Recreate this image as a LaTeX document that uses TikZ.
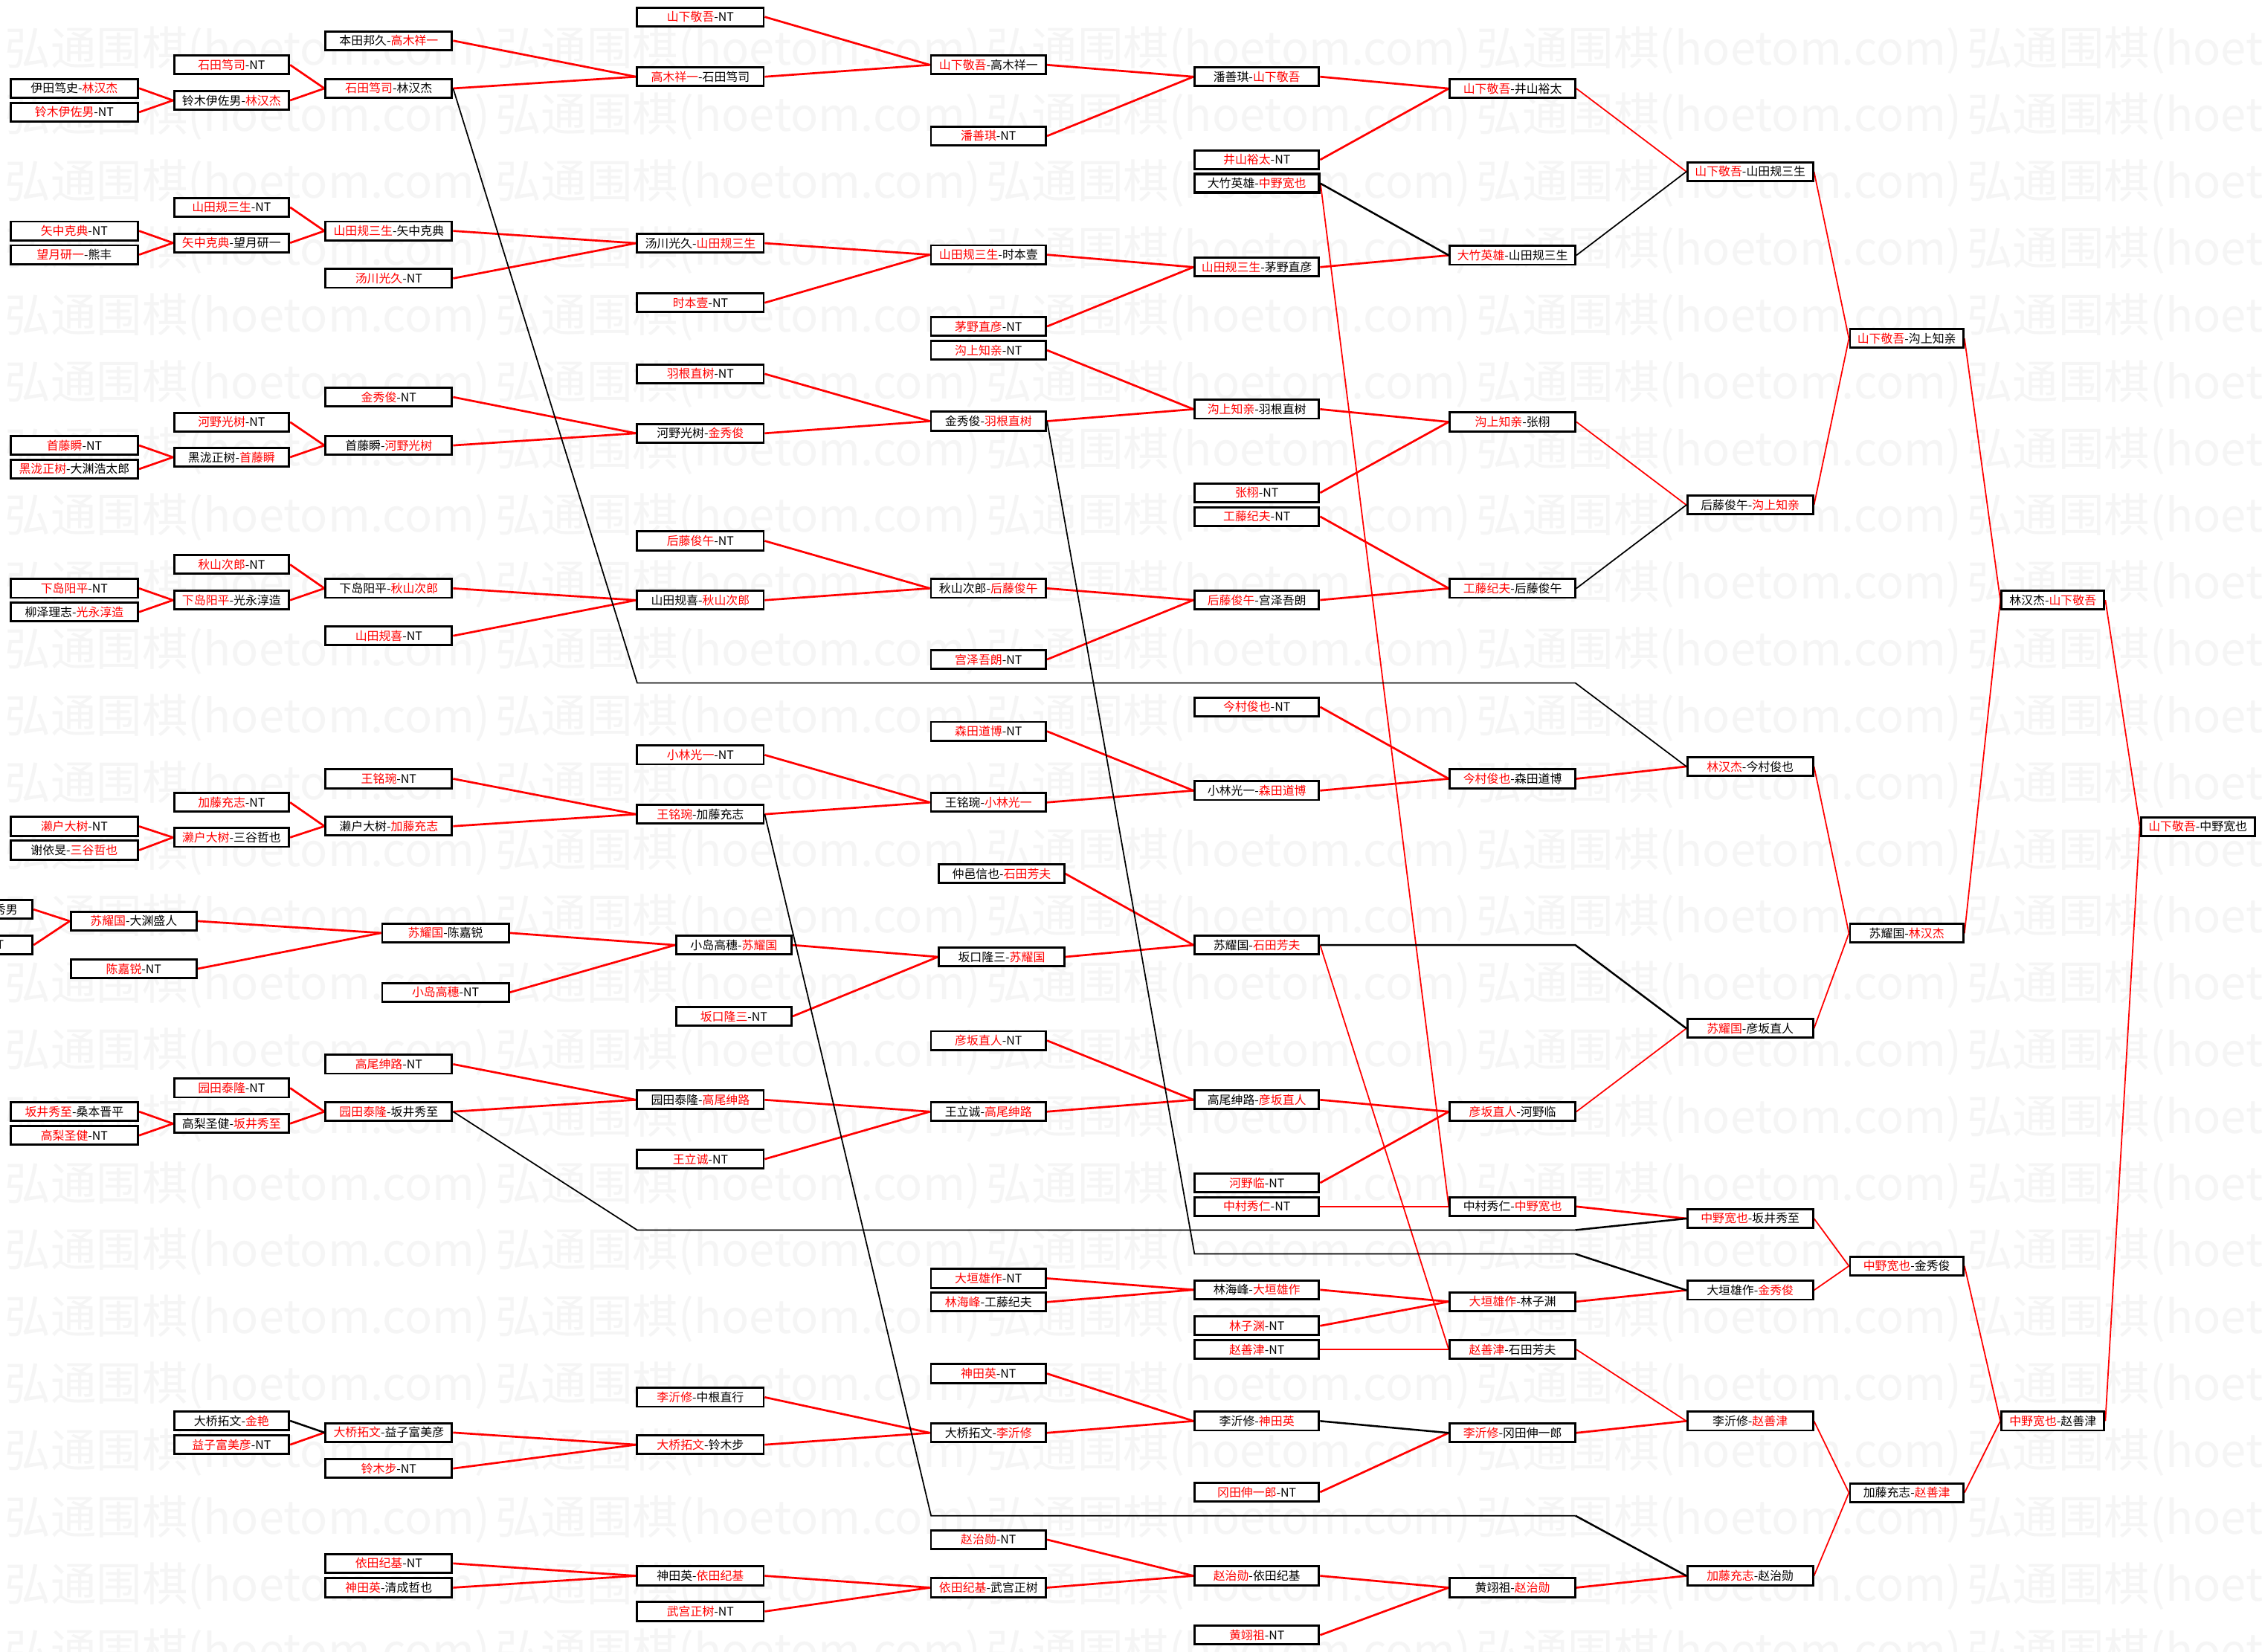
\documentclass[tikz,border=0pt]{standalone}
\usepackage{fontspec}
\newfontfamily\cjk{Noto Sans CJK SC}
\newcommand\R[1]{\textcolor{red}{#1}}
\pgfdeclarelayer{wmlayer}
\pgfdeclarelayer{linelayer}
\pgfsetlayers{wmlayer,linelayer,main}
\begin{document}
\begin{tikzpicture}[x=1pt,y=-1pt,
 box/.style={draw=black, line width=1.5pt, fill=white, minimum height=13pt, inner sep=0pt, font=\cjk\fontsize{8.2}{9}\selectfont},
 c0/.style={box, minimum width=88.4pt},
 c1/.style={box, minimum width=79.7pt},
 c2/.style={box, minimum width=87.7pt},
 c3/.style={box, minimum width=87.7pt},
 c4/.style={box, minimum width=79.7pt},
 c4b/.style={box, minimum width=86.7pt},
 c5/.style={box, minimum width=86.3pt},
 c6/.style={box, minimum width=87pt},
 c7/.style={box, minimum width=87pt},
 c8/.style={box, minimum width=78.6pt},
 c9/.style={box, minimum width=71.3pt},
 c10/.style={box, minimum width=78.9pt},
 c1b/.style={box, minimum width=87.3pt},
 c2b/.style={box, minimum width=87.7pt},
 c3b/.style={box, minimum width=80pt},
 rl/.style={draw=red, line width=1.4pt},
 rt/.style={draw=red, line width=0.9pt},
 bl/.style={draw=black, line width=1.3pt},
 bt/.style={draw=black, line width=0.9pt},
 wm/.style={anchor=west, inner sep=0pt, text=black!4, font=\cjk\fontsize{31.7}{32}\selectfont}]
\useasboundingbox (0,0) rectangle (1568,1145);
\begin{pgfonlayer}{wmlayer}
\fill[white] (0,0) rectangle (1568,1145);
\foreach \j in {0,...,24}{\foreach \i in {0,...,4}{
  \node[wm] (wm-\i-\j) at ({3.3+340*\i},{34.7+46.3*\j}) {弘通围棋(hoetom.com)};}}
\end{pgfonlayer}
% C0
\node[c0] (n01) at (51.5,61.2) {伊田笃史-\R{林汉杰}};
\node[c0] (n02) at (51.5,77.8) {\R{铃木伊佐男}-NT};
\node[c0] (n03) at (51.5,160.1) {\R{矢中克典}-NT};
\node[c0] (n04) at (51.5,176.6) {\R{望月研一}-熊丰};
\node[c0] (n05) at (51.5,308.8) {\R{首藤瞬}-NT};
\node[c0] (n06) at (51.5,325.2) {\R{黑泷正树}-大渊浩太郎};
\node[c0] (n07) at (51.5,407.9) {\R{下岛阳平}-NT};
\node[c0] (n08) at (51.5,424.3) {柳泽理志-\R{光永淳造}};
\node[c0] (n09) at (51.5,572.9) {\R{濑户大树}-NT};
\node[c0] (n10) at (51.5,589.4) {谢依旻-\R{三谷哲也}};
\node[c0] (n11) at (51.5,770.7) {\R{坂井秀至}-桑本晋平};
\node[c0] (n12) at (51.5,787.2) {\R{高梨圣健}-NT};
\node[c0, anchor=east, text width=67.7pt, align=right] (x0a) at (23.3,630.5) {秀男};
\node[c0, anchor=east, text width=48.7pt, align=right] (x0b) at (23.3,655.2) {NT};
% C1
\node[c1] (m01) at (160.5,45) {\R{石田笃司}-NT};
\node[c1] (m02) at (160.5,69.6) {铃木伊佐男-\R{林汉杰}};
\node[c1] (m03) at (160.5,143.7) {\R{山田规三生}-NT};
\node[c1] (m04) at (160.5,168.4) {\R{矢中克典}-望月研一};
\node[c1] (m05) at (160.5,292.6) {\R{河野光树}-NT};
\node[c1] (m06) at (160.5,317) {黑泷正树-\R{首藤瞬}};
\node[c1] (m07) at (160.5,391.4) {\R{秋山次郎}-NT};
\node[c1] (m08) at (160.5,416.1) {\R{下岛阳平}-光永淳造};
\node[c1] (m09) at (160.5,556.3) {\R{加藤充志}-NT};
\node[c1] (m10) at (160.5,580.6) {\R{濑户大树}-三谷哲也};
\node[c1] (m11) at (160.5,754.3) {\R{园田泰隆}-NT};
\node[c1] (m12) at (160.5,779) {高梨圣健-\R{坂井秀至}};
\node[c1] (m13) at (160.5,985) {大桥拓文-\R{金艳}};
\node[c1] (m14) at (160.5,1001.6) {\R{益子富美彦}-NT};
\node[c1b] (b01) at (92.7,638.6) {\R{苏耀国}-大渊盛人};
\node[c1b] (b02) at (92.7,671.6) {\R{陈嘉锐}-NT};
% C2
\node[c2] (k01) at (269.5,28.2) {本田邦久-\R{高木祥一}};
\node[c2] (k02) at (269.5,61.3) {\R{石田笃司}-林汉杰};
\node[c2] (k03) at (269.5,160.1) {\R{山田规三生}-矢中克典};
\node[c2] (k04) at (269.5,193) {\R{汤川光久}-NT};
\node[c2] (k05) at (269.5,275.3) {\R{金秀俊}-NT};
\node[c2] (k06) at (269.5,308.8) {首藤瞬-\R{河野光树}};
\node[c2] (k07) at (269.5,407.9) {下岛阳平-\R{秋山次郎}};
\node[c2] (k08) at (269.5,440.8) {\R{山田规喜}-NT};
\node[c2] (k09) at (269.5,539.9) {\R{王铭琬}-NT};
\node[c2] (k10) at (269.5,572.8) {濑户大树-\R{加藤充志}};
\node[c2] (k11) at (269.5,737.8) {\R{高尾绅路}-NT};
\node[c2] (k12) at (269.5,770.7) {\R{园田泰隆}-坂井秀至};
\node[c2] (k13) at (269.5,993.2) {\R{大桥拓文}-益子富美彦};
\node[c2] (k14) at (269.5,1018.1) {\R{铃木步}-NT};
\node[c2] (k15) at (269.5,1083.9) {\R{依田纪基}-NT};
\node[c2] (k16) at (269.5,1100.7) {\R{神田英}-清成哲也};
\node[c2b] (b03) at (308.8,646.8) {\R{苏耀国}-陈嘉锐};
\node[c2b] (b04) at (308.8,688) {\R{小岛高穗}-NT};
% C3
\node[c3] (j01) at (485.5,11.7) {\R{山下敬吾}-NT};
\node[c3] (j02) at (485.5,53.2) {\R{高木祥一}-石田笃司};
\node[c3] (j03) at (485.5,168.6) {汤川光久-\R{山田规三生}};
\node[c3] (j04) at (485.5,209.9) {\R{时本壹}-NT};
\node[c3] (j05) at (485.5,259.2) {\R{羽根直树}-NT};
\node[c3] (j06) at (485.5,300.4) {河野光树-\R{金秀俊}};
\node[c3] (j07) at (485.5,375) {\R{后藤俊午}-NT};
\node[c3] (j08) at (485.5,416.1) {山田规喜-\R{秋山次郎}};
\node[c3] (j09) at (485.5,523.4) {\R{小林光一}-NT};
\node[c3] (j10) at (485.5,564.5) {\R{王铭琬}-加藤充志};
\node[c3] (j11) at (485.5,762.5) {园田泰隆-\R{高尾绅路}};
\node[c3] (j12) at (485.5,803.6) {\R{王立诚}-NT};
\node[c3] (j13) at (485.5,968.7) {\R{李沂修}-中根直行};
\node[c3] (j14) at (485.5,1001.6) {\R{大桥拓文}-铃木步};
\node[c3] (j15) at (485.5,1092.5) {神田英-\R{依田纪基}};
\node[c3] (j16) at (485.5,1117.2) {\R{武宫正树}-NT};
\node[c3b] (b05) at (508.7,655.2) {小岛高穗-\R{苏耀国}};
\node[c3b] (b06) at (508.7,704.6) {\R{坂口隆三}-NT};
% C4
\node[c4] (h01) at (685.2,45) {\R{山下敬吾}-高木祥一};
\node[c4] (h02) at (685.2,94.3) {\R{潘善琪}-NT};
\node[c4] (h03) at (685.2,176.6) {\R{山田规三生}-时本壹};
\node[c4] (h04) at (685.2,226.3) {\R{茅野直彦}-NT};
\node[c4] (h05) at (685.2,242.8) {\R{沟上知亲}-NT};
\node[c4] (h06) at (685.2,292) {金秀俊-\R{羽根直树}};
\node[c4] (h07) at (685.2,407.9) {秋山次郎-\R{后藤俊午}};
\node[c4] (h08) at (685.2,457.2) {\R{宫泽吾朗}-NT};
\node[c4] (h09) at (685.2,507) {\R{森田道博}-NT};
\node[c4] (h10) at (685.2,556.3) {王铭琬-\R{小林光一}};
\node[c4] (h11) at (685.2,721.4) {\R{彦坂直人}-NT};
\node[c4] (h12) at (685.2,770.7) {王立诚-\R{高尾绅路}};
\node[c4] (h13) at (685.2,886.3) {\R{大垣雄作}-NT};
\node[c4] (h14) at (685.2,902.7) {\R{林海峰}-工藤纪夫};
\node[c4] (h15) at (685.2,952.3) {\R{神田英}-NT};
\node[c4] (h16) at (685.2,993.4) {大桥拓文-\R{李沂修}};
\node[c4] (h17) at (685.2,1067.4) {\R{赵治勋}-NT};
\node[c4] (h18) at (685.2,1100.7) {\R{依田纪基}-武宫正树};
\node[c4b] (b07) at (694.3,605.7) {仲邑信也-\R{石田芳夫}};
\node[c4b] (b08) at (694.3,663.4) {坂口隆三-\R{苏耀国}};
% C5
\node[c5] (g01) at (871.2,53.2) {潘善琪-\R{山下敬吾}};
\node[c5] (g02) at (871.2,110.8) {\R{井山裕太}-NT};
\node[c5, line width=2pt] (g03) at (871.2,127.2) {大竹英雄-\R{中野宽也}};
\node[c5] (g04) at (871.2,185.2) {\R{山田规三生}-茅野直彦};
\node[c5] (g05) at (871.2,283.7) {\R{沟上知亲}-羽根直树};
\node[c5] (g06) at (871.2,341.7) {\R{张栩}-NT};
\node[c5] (g07) at (871.2,358.1) {\R{工藤纪夫}-NT};
\node[c5] (g08) at (871.2,416) {\R{后藤俊午}-宫泽吾朗};
\node[c5] (g09) at (871.2,490.1) {\R{今村俊也}-NT};
\node[c5] (g10) at (871.2,548.1) {小林光一-\R{森田道博}};
\node[c5] (g11) at (871.2,655.2) {苏耀国-\R{石田芳夫}};
\node[c5] (g12) at (871.2,762.5) {高尾绅路-\R{彦坂直人}};
\node[c5] (g13) at (871.2,820.1) {\R{河野临}-NT};
\node[c5] (g14) at (871.2,836.5) {\R{中村秀仁}-NT};
\node[c5] (g15) at (871.2,894.2) {林海峰-\R{大垣雄作}};
\node[c5] (g16) at (871.2,919.2) {\R{林子渊}-NT};
\node[c5] (g17) at (871.2,935.6) {\R{赵善津}-NT};
\node[c5] (g18) at (871.2,985.2) {李沂修-\R{神田英}};
\node[c5] (g19) at (871.2,1034.5) {\R{冈田伸一郎}-NT};
\node[c5] (g20) at (871.2,1092.5) {\R{赵治勋}-依田纪基};
\node[c5] (g21) at (871.2,1133.6) {\R{黄翊祖}-NT};
% C6
\node[c6] (f01) at (1048.5,61.4) {\R{山下敬吾}-井山裕太};
\node[c6] (f02) at (1048.5,177) {\R{大竹英雄}-山田规三生};
\node[c6] (f03) at (1048.5,292.5) {\R{沟上知亲}-张栩};
\node[c6] (f04) at (1048.5,407.9) {\R{工藤纪夫}-后藤俊午};
\node[c6] (f05) at (1048.5,539.9) {\R{今村俊也}-森田道博};
\node[c6] (f06) at (1048.5,770.7) {\R{彦坂直人}-河野临};
\node[c6] (f07) at (1048.5,836.5) {中村秀仁-\R{中野宽也}};
\node[c6] (f08) at (1048.5,902.4) {\R{大垣雄作}-林子渊};
\node[c6] (f09) at (1048.5,935.6) {\R{赵善津}-石田芳夫};
\node[c6] (f10) at (1048.5,993.4) {\R{李沂修}-冈田伸一郎};
\node[c6] (f11) at (1048.5,1100.7) {黄翊祖-\R{赵治勋}};
% C7
\node[c7] (e01) at (1213.2,119) {\R{山下敬吾}-山田规三生};
\node[c7] (e02) at (1213.2,350.1) {后藤俊午-\R{沟上知亲}};
\node[c7] (e03) at (1213.2,531.4) {\R{林汉杰}-今村俊也};
\node[c7] (e04) at (1213.2,713) {\R{苏耀国}-彦坂直人};
\node[c7] (e05) at (1213.2,844.8) {\R{中野宽也}-坂井秀至};
\node[c7] (e06) at (1213.2,894.5) {大垣雄作-\R{金秀俊}};
\node[c7] (e07) at (1213.2,985.2) {李沂修-\R{赵善津}};
\node[c7] (e08) at (1213.2,1092.5) {\R{加藤充志}-赵治勋};
% C8
\node[c8] (d01) at (1321.7,234.7) {\R{山下敬吾}-沟上知亲};
\node[c8] (d02) at (1321.7,647) {苏耀国-\R{林汉杰}};
\node[c8] (d03) at (1321.7,877.7) {\R{中野宽也}-金秀俊};
\node[c8] (d04) at (1321.7,1034.9) {加藤充志-\R{赵善津}};
% C9
\node[c9] (c01) at (1423,416) {林汉杰-\R{山下敬吾}};
\node[c9] (c02) at (1423,985.2) {\R{中野宽也}-赵善津};
% C10
\node[c10] (a01) at (1523.5,573) {\R{山下敬吾}-中野宽也};
% connectors
\begin{pgfonlayer}{linelayer}
\foreach \a/\b in {n01/m02,n02/m02,m01/k02,m02/k02,k01/j02,k02/j02,j01/h01,j02/h01,h01/g01,h02/g01,g01/f01,g02/f01,
 n03/m04,n04/m04,m03/k03,m04/k03,k03/j03,k04/j03,j03/h03,j04/h03,h03/g04,h04/g04,g04/f02,
 n05/m06,n06/m06,m05/k06,m06/k06,k05/j06,k06/j06,j05/h06,j06/h06,h06/g05,h05/g05,g05/f03,g06/f03,
 g07/f04,g08/f04,h07/g08,h08/g08,j07/h07,j08/h07,k07/j08,k08/j08,m07/k07,m08/k07,n07/m08,n08/m08,
 g09/f05,g10/f05,f05/e03,h09/g10,h10/g10,j09/h10,j10/h10,k09/j10,k10/j10,m09/k10,m10/k10,n09/m10,n10/m10,
 b07/g11,b08/g11,b05/b08,b06/b08,b03/b05,b04/b05,b01/b03,b02/b03,x0a/b01,x0b/b01,
 h11/g12,h12/g12,g12/f06,g13/f06,j11/h12,j12/h12,k11/j11,k12/j11,m11/k12,m12/k12,n11/m12,n12/m12,
 g14/f07,f07/e05,f08/e06,g15/f08,g16/f08,h13/g15,h14/g15,g17/f09,f10/e07,g19/f10,h15/g18,h16/g18,
 j13/h16,j14/h16,k13/j14,k14/j14,m14/k13,f11/e08,g20/f11,g21/f11,h17/g20,h18/g20,j15/h18,j16/h18,k15/j15,k16/j15}
 {\draw[rl] (\a.east) -- (\b.west);}
\foreach \a/\b in {f01/e01,f03/e02,e01/d01,e02/d01,d01/c01,d02/c01,c01/a01,c02/a01,e03/d02,e04/d02,f06/e04,
 e05/d03,e06/d03,d03/c02,d04/c02,f09/e07,e07/d04,e08/d04,g03/f07,g11/f09}
 {\draw[rt] (\a.east) -- (\b.west);}
\foreach \a/\b in {g03/f02,g18/f10,m13/k13}
 {\draw[bl] (\a.east) -- (\b.west);}
\draw[bt] (f02.east) -- (e01.west);
\draw[bt] (f04.east) -- (e02.west);
\draw[bt] (k02.east) -- (441.7,473.5) -- (1092,473.5) -- (e03.west);
\draw[bt] (h06.east) -- (828,869.3) -- (1092,869.3);
\draw[bl] (1092,869.3) -- (e06.west);
\draw[bt] (j10.east) -- (645.4,1050.8) -- (1092,1050.8);
\draw[bl] (1092,1050.8) -- (e08.west);
\draw[bl] (g11.east) -- (1092,655.2) -- (e04.west);
\draw[bt] (k12.east) -- (441.7,852.8) -- (1092,852.8);
\draw[bl] (1092,852.8) -- (e05.west);
\end{pgfonlayer}
\end{tikzpicture}
\end{document}
